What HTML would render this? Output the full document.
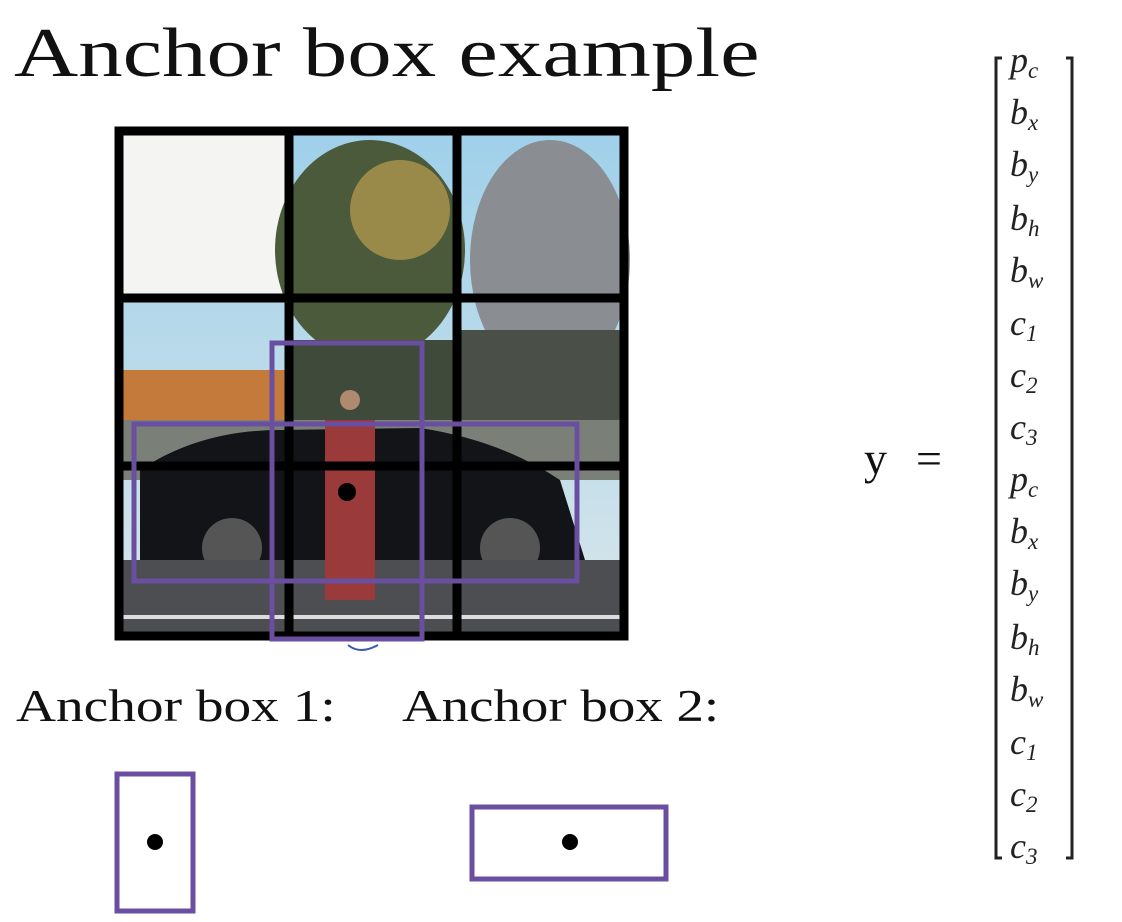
<!DOCTYPE html>
<html><head><meta charset="utf-8"><style>
html,body{margin:0;padding:0;background:#fff;width:1122px;height:922px;overflow:hidden;position:relative}
.t{position:absolute;font-family:"Liberation Serif",serif;color:#111;white-space:nowrap;transform-origin:0 0}
.m{position:absolute;left:1010px;font-family:"Liberation Serif",serif;font-style:italic;font-size:36px;color:#222;line-height:1}
.m sub{font-size:23px;vertical-align:-6px}
</style></head><body>
<div class="t" style="left:14px;top:14px;font-size:70px;transform:scaleX(1.27)">Anchor box example</div>
<div class="t" style="left:16px;top:680px;font-size:45px;transform:scaleX(1.23)">Anchor box 1:</div>
<div class="t" style="left:402px;top:680px;font-size:45px;transform:scaleX(1.22)">Anchor box 2:</div>
<div class="t" style="left:864px;top:432px;font-size:46px;">y</div>
<div class="t" style="left:916px;top:432px;font-size:46px;">=</div>
<svg width="1122" height="922" style="position:absolute;left:0;top:0">
<defs>
<linearGradient id="sky" x1="0" y1="0" x2="0" y2="1"><stop offset="0" stop-color="#9fd0ea"/><stop offset="1" stop-color="#d9e6ea"/></linearGradient>
</defs>
<rect x="119" y="131" width="505" height="505" fill="url(#sky)"/>
<rect x="119" y="131" width="170" height="166" fill="#f4f4f2"/>
<ellipse cx="370" cy="250" rx="95" ry="110" fill="#4a5a3a"/>
<ellipse cx="400" cy="210" rx="50" ry="50" fill="#9a8a4a"/>
<ellipse cx="550" cy="260" rx="80" ry="120" fill="#8a8d92"/>
<rect x="119" y="370" width="170" height="50" fill="#c47a3a"/>
<rect x="290" y="340" width="170" height="120" fill="#3f4a3a"/>
<rect x="460" y="330" width="164" height="140" fill="#4a5048"/>
<rect x="119" y="420" width="505" height="60" fill="#7a8078"/>
<path d="M140 470 Q200 430 280 430 L420 428 Q500 440 560 480 L585 560 L140 560 Z" fill="#121418"/>
<circle cx="232" cy="548" r="30" fill="#555"/><circle cx="510" cy="548" r="30" fill="#555"/>
<rect x="119" y="560" width="505" height="76" fill="#4c4e52"/>
<rect x="119" y="615" width="505" height="4" fill="#ddd"/>
<rect x="325" y="420" width="50" height="180" fill="#9a3a3a"/>
<circle cx="350" cy="400" r="10" fill="#b08a70"/>
<g fill="none" stroke="#000" stroke-width="9">
<rect x="119" y="131" width="505" height="505"/>
<line x1="289" y1="131" x2="289" y2="636"/><line x1="457" y1="131" x2="457" y2="636"/>
<line x1="119" y1="298" x2="624" y2="298"/><line x1="119" y1="466" x2="624" y2="466"/>
</g>
<g fill="none" stroke="#6a4ea0" stroke-width="5">
<rect x="272" y="343" width="150" height="296"/>
<rect x="134" y="424" width="443" height="157"/>
<rect x="117" y="774" width="76" height="137"/>
<rect x="472" y="807" width="194" height="72"/>
</g>
<circle cx="347" cy="492" r="9" fill="#000"/>
<circle cx="155" cy="842" r="8" fill="#000"/>
<circle cx="570" cy="842" r="8" fill="#000"/>
<path d="M348 645 Q360 655 378 645" fill="none" stroke="#3a5ab0" stroke-width="2"/>
<g fill="none" stroke="#222" stroke-width="3">
<path d="M1002 58 H996 V858 H1002"/>
<path d="M1066 58 H1072 V858 H1066"/>
</g>
</svg>
<div class="m" style="top:42px">p<sub>c</sub></div>
<div class="m" style="top:94px">b<sub>x</sub></div>
<div class="m" style="top:146px">b<sub>y</sub></div>
<div class="m" style="top:200px">b<sub>h</sub></div>
<div class="m" style="top:252px">b<sub>w</sub></div>
<div class="m" style="top:305px">c<sub>1</sub></div>
<div class="m" style="top:357px">c<sub>2</sub></div>
<div class="m" style="top:409px">c<sub>3</sub></div>
<div class="m" style="top:461px">p<sub>c</sub></div>
<div class="m" style="top:513px">b<sub>x</sub></div>
<div class="m" style="top:565px">b<sub>y</sub></div>
<div class="m" style="top:619px">b<sub>h</sub></div>
<div class="m" style="top:671px">b<sub>w</sub></div>
<div class="m" style="top:724px">c<sub>1</sub></div>
<div class="m" style="top:776px">c<sub>2</sub></div>
<div class="m" style="top:828px">c<sub>3</sub></div>
</body></html>
